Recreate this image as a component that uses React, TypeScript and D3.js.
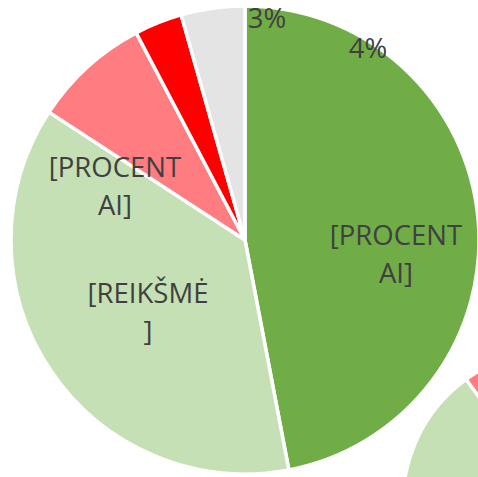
import React, { useEffect, useRef } from "react";
import * as d3 from "d3";

// slices, clockwise from 12 o'clock
const categories = ["A", "B", "C", "D", "E"];
const colors = ["#70AD47", "#C5E0B4", "#FF7C80", "#FF0000", "#E4E4E4"];
const mainValues = [47, 37.2, 8.1, 3.3, 4.4];
// second chart, only its upper-left part shows in the corner
const cornerValues = [50, 40, 6, 2, 2];

const labelTexts = [["3%"], ["4%"], ["[PROCENT", "AI]"], ["[PROCENT", "AI]"], ["[REIKŠMĖ", "]"]];
// label anchors (text centre, first baseline)
const labelLayout = [
  [267, 28],
  [368, 58],
  [396, 245],
  [115, 177],
  [148, 303],
];

const W = 478;
const H = 477;

const App = () => {
  const ref = useRef<SVGSVGElement | null>(null);

  useEffect(() => {
    const svg = d3.select(ref.current);
    svg.selectAll("*").remove();

    const pie = d3
      .pie<number>()
      .sort(null)
      .value(d => d);

    const drawPie = (values: number[], cx: number, cy: number, r: number) => {
      const arc = d3.arc<d3.PieArcDatum<number>>().innerRadius(0).outerRadius(r);
      svg
        .append("g")
        .attr("transform", `translate(${cx},${cy})`)
        .selectAll("path")
        .data(pie(values))
        .join("path")
        .attr("d", arc)
        .attr("fill", (d, i) => colors[i])
        .attr("stroke", "#fff")
        .attr("stroke-width", 3.5)
        .attr("stroke-linejoin", "round");
    };

    drawPie(cornerValues, 556, 503, 153);
    drawPie(mainValues, 245, 240, 234);

    const lbl = svg
      .append("g")
      .attr("font-family", "'Open Sans', sans-serif")
      .attr("font-size", 27.5)
      .attr("fill", "#404040")
      .attr("text-anchor", "middle");

    labelTexts.forEach((lines, i) => {
      const [x, y] = labelLayout[i];
      const t = lbl.append("text").attr("x", x).attr("y", y);
      lines.forEach((s, j) => {
        t.append("tspan")
          .attr("x", x)
          .attr("dy", j === 0 ? 0 : 38)
          .text(s);
      });
    });
  }, []);

  return (
    <svg
      ref={ref}
      width={W}
      height={H}
      style={{ position: "absolute", left: 0, top: 0, background: "#fff" }}
    />
  );
};

export default App;
